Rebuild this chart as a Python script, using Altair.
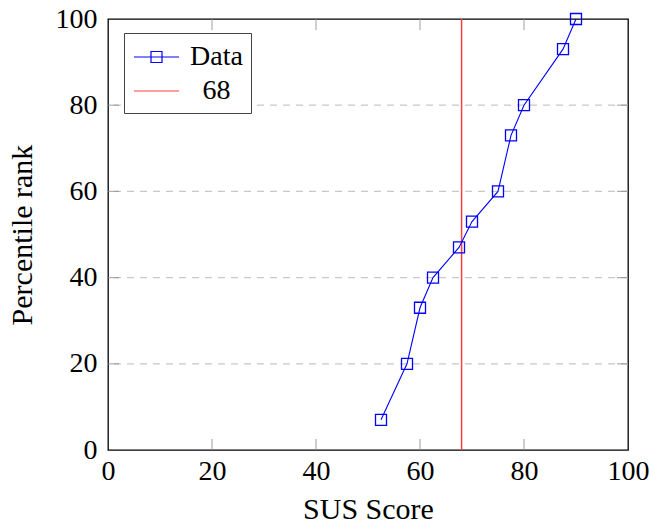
import altair as alt
import pandas as pd

# ---- data ----
sus = [52.5, 57.5, 60, 62.5, 67.5, 70, 75, 77.5, 80, 87.5, 90]
pct = [7, 20, 33, 40, 47, 53, 60, 73, 80, 93, 100]
ref_value = [68]
series_names = ["Data", "68"]
tick_values = [20, 40, 60, 80]
axis_values = [0, 20, 40, 60, 80, 100]

df = pd.DataFrame({"sus": sus, "pct": pct, "series": ["Data"] * len(sus)})
ref = pd.DataFrame({"sus": ref_value, "series": ["68"]})
ticks = pd.DataFrame({"t": tick_values})

FONT = "Liberation Serif"
FS = 28
TFS = 30
TICK_COLOR = "#8c8c8c"

xscale = alt.Scale(domain=[0, 100], nice=False, zero=False)
yscale = alt.Scale(domain=[0, 100], nice=False, zero=False)

x_axis = alt.Axis(values=axis_values, ticks=False, domain=False, grid=False,
                  labelFont=FONT, labelFontSize=FS, labelColor="black",
                  labelPadding=7, labelOverlap=False, labelFlush=False,
                  title="SUS Score", titleFont=FONT, titleFontSize=TFS,
                  titleFontWeight="normal", titleColor="black", titlePadding=9)
y_axis = alt.Axis(values=axis_values, ticks=False, domain=False, grid=False,
                  labelFont=FONT, labelFontSize=FS, labelColor="black",
                  labelPadding=11, labelOverlap=False, labelFlush=False,
                  title="Percentile rank", titleFont=FONT, titleFontSize=TFS,
                  titleFontWeight="normal", titleColor="black", titlePadding=18)

data_path = "M-1.5,0H1.5M-0.367,-0.367H0.367V0.367H-0.367Z"
ref_path = "M-1.5,0H1.5"

legend = alt.Legend(
    title=None, orient="none", legendX=16, legendY=14, direction="vertical",
    padding=8, strokeColor="#444444", fillColor="white", cornerRadius=0,
    symbolSize=900, symbolOffset=8.5, labelOffset=44, labelAlign="center",
    rowPadding=4,
    labelFont=FONT, labelFontSize=FS, labelColor="black",
    symbolOpacity=1, symbolFillColor="transparent", symbolStrokeWidth=1.2,
)

color = alt.Color("series:N",
                  scale=alt.Scale(domain=series_names, range=["#0000ff", "#ff4040"]),
                  legend=legend)
shape = alt.Shape("series:N",
                  scale=alt.Scale(domain=series_names, range=[data_path, ref_path]),
                  legend=legend)

grid = alt.Chart(ticks).mark_rule(strokeDash=[7, 6], color="#c8c8c8", strokeWidth=1.2).encode(
    y=alt.Y("t:Q", scale=yscale, axis=y_axis),
)
line = alt.Chart(df).mark_line(strokeWidth=1.1).encode(
    x=alt.X("sus:Q", scale=xscale, axis=x_axis),
    y=alt.Y("pct:Q", scale=yscale, axis=y_axis),
    color=color,
)
points = alt.Chart(df).mark_point(shape="square", filled=False, size=121,
                                  strokeWidth=1.3, opacity=1).encode(
    x=alt.X("sus:Q", scale=xscale, axis=x_axis),
    y=alt.Y("pct:Q", scale=yscale, axis=y_axis),
    color=color,
)
legend_carrier = alt.Chart(df).mark_point(opacity=0, filled=False).encode(
    x=alt.X("sus:Q", scale=xscale, axis=x_axis),
    y=alt.Y("pct:Q", scale=yscale, axis=y_axis),
    color=color,
    shape=shape,
)
rule = alt.Chart(ref).mark_rule(strokeWidth=1.5).encode(
    x=alt.X("sus:Q", scale=xscale, axis=x_axis),
    color=color,
)

bottom_ticks = alt.Chart(ticks).mark_tick(orient="vertical", size=11, thickness=1.2,
                                          yOffset=-5.5, color=TICK_COLOR).encode(
    x=alt.X("t:Q", scale=xscale, axis=x_axis),
    y=alt.YDatum(0, scale=yscale, axis=y_axis),
)
top_ticks = alt.Chart(ticks).mark_tick(orient="vertical", size=11, thickness=1.2,
                                       yOffset=5.5, color=TICK_COLOR).encode(
    x=alt.X("t:Q", scale=xscale, axis=x_axis),
    y=alt.YDatum(100, scale=yscale, axis=y_axis),
)
left_ticks = alt.Chart(ticks).mark_tick(orient="horizontal", size=11, thickness=1.2,
                                        xOffset=5.5, color=TICK_COLOR).encode(
    y=alt.Y("t:Q", scale=yscale, axis=y_axis),
    x=alt.XDatum(0, scale=xscale, axis=x_axis),
)
right_ticks = alt.Chart(ticks).mark_tick(orient="horizontal", size=11, thickness=1.2,
                                         xOffset=-5.5, color=TICK_COLOR).encode(
    y=alt.Y("t:Q", scale=yscale, axis=y_axis),
    x=alt.XDatum(100, scale=xscale, axis=x_axis),
)

chart = alt.layer(grid, bottom_ticks, top_ticks, left_ticks, right_ticks,
                  rule, line, points, legend_carrier).properties(
    width=520, height=431,
    autosize=alt.AutoSizeParams(type="none"),
    padding={"left": 108, "top": 19, "right": 21, "bottom": 75},
    background="white",
).configure(
    font=FONT,
).configure_axis(
    labelFont=FONT, titleFont=FONT, labelFontSize=FS, titleFontSize=TFS,
).configure_legend(
    labelFont=FONT, labelFontSize=FS,
).configure_view(stroke="black", strokeWidth=1.3)

chart.save("out.html", embed_options={"renderer": "svg", "actions": False})
